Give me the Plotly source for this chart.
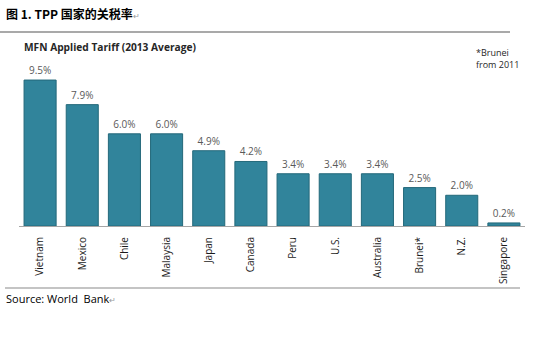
import plotly.graph_objects as go

countries = ["Vietnam", "Mexico", "Chile", "Malaysia", "Japan", "Canada",
             "Peru", "U.S.", "Australia", "Brunei*", "N.Z.", "Singapore"]
tariffs = [9.5, 7.9, 6.0, 6.0, 4.9, 4.2, 3.4, 3.4, 3.4, 2.5, 2.0, 0.2]
labels = [f"{v:.1f}%" for v in tariffs]

font_main = "Open Sans, Noto Sans, sans-serif"

W, H, L, R, T, B = 550, 350, 19, 25, 57, 124
pw, ph = W - L - R, H - T - B


def px(x):
    return (x - L) / pw


def py(y):
    return 1 - (y - T) / ph


fig = go.Figure()
fig.add_trace(go.Bar(
    x=countries, y=tariffs, text=labels, textposition="outside",
    textfont=dict(size=10, color="#595959", family=font_main),
    marker=dict(color="#31849B", line=dict(color="#23687a", width=1)),
    width=0.76, cliponaxis=False,
))


def ann(text, x, y, size, color="#262626", family=font_main, align="left"):
    return dict(text=text, x=px(x), y=py(y), xref="paper", yref="paper",
                showarrow=False, align=align,
                font=dict(size=size, color=color, family=family),
                xanchor="left", yanchor="middle")


fig.update_layout(
    width=W, height=H,
    margin=dict(l=L, r=R, t=T, b=B),
    paper_bgcolor="white", plot_bgcolor="white",
    showlegend=False,
    xaxis=dict(tickangle=-90, tickfont=dict(size=10, color="#1a1a1a", family=font_main),
               showline=True, linecolor="#a6a6a6", linewidth=1, ticks="",
               showgrid=False, ticklabelstandoff=6),
    yaxis=dict(range=[0, 11], visible=False, showgrid=False),
    shapes=[
        dict(type="line", xref="paper", yref="paper", x0=px(0), x1=px(510),
             y0=py(32), y1=py(32), line=dict(color="#8c8c8c", width=1.5)),
        dict(type="line", xref="paper", yref="paper", x0=px(5), x1=px(520),
             y0=py(288), y1=py(288), line=dict(color="#b0b0b0", width=1.5)),
    ],
    annotations=[
        ann("<b>图 1. TPP 国家的关税率</b><span style='font-size:8px;color:#999'>↵</span>",
            4, 13, 12, color="#000", family="Noto Sans CJK SC, sans-serif"),
        ann("<b>MFN Applied Tariff (2013 Average)</b>", 22, 47, 10.2),
        ann("*Brunei<br>from 2011", 474, 58, 9),
        ann("Source: World  Bank<span style='font-size:8px;color:#999'>↵</span>",
            4, 298, 11, color="#000"),
    ],
)

fig.write_html("out.html")
